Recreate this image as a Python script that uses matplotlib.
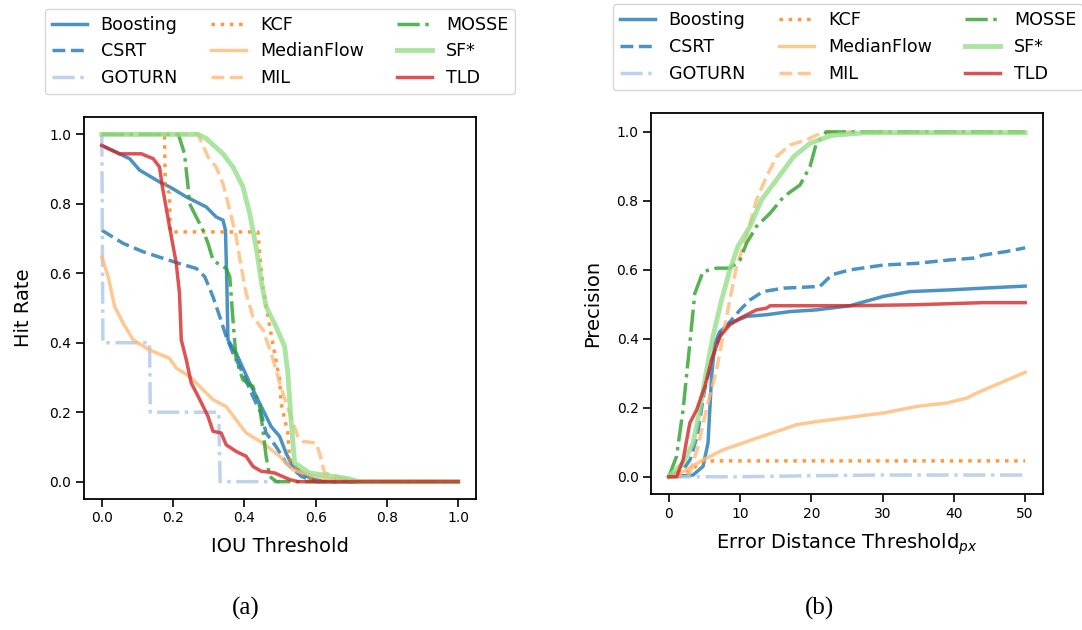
import matplotlib
matplotlib.use("Agg")
from matplotlib import pyplot as plt

names = ["Boosting", "CSRT", "GOTURN", "KCF", "MedianFlow", "MIL", "MOSSE", "SF*", "TLD"]

# (a) hit rate vs IOU threshold
boost_iou_x = [0, .078, .106, .162, .19, .237, .293, .321, .34, .347, .351, .354, .377, .415, .452, .475, .499, .517, .536, .583, .62, 1.0]
boost_iou_y = [.968, .930, .897, .863, .849, .820, .791, .762, .753, .724, .561, .408, .370, .284, .207, .159, .130, .082, .044, .011, 0, 0]
csrt_iou_x = [0, .06, .116, .172, .218, .265, .289, .312, .331, .349, .368, .396, .424, .447, .461, .489, .517, .56, .6, 1.0]
csrt_iou_y = [.724, .686, .662, .643, .628, .614, .590, .532, .475, .418, .370, .312, .245, .197, .140, .101, .054, .015, 0, 0]
goturn_iou_x = [0, .003, .134, .136, .328, .332, .5]
goturn_iou_y = [1.0, .4, .4, .2, .2, 0, 0]
kcf_iou_x = [0, .176, .178, .19, .192, .438, .443, .452, .471, .485, .499, .503, .522, .527, .56, .6, 1.0]
kcf_iou_y = [1, 1, .85, .83, .719, .719, .657, .561, .446, .370, .293, .226, .140, .063, .025, 0, 0]
mflow_iou_x = [0, .018, .036, .06, .088, .134, .19, .209, .246, .275, .312, .349, .377, .405, .452, .499, .536, .599, .665, .7, 1.0]
mflow_iou_y = [.647, .590, .504, .456, .408, .379, .355, .327, .303, .274, .236, .216, .178, .140, .111, .073, .034, .015, .004, 0, 0]
mil_iou_x = [0, .27, .298, .321, .34, .359, .377, .391, .405, .424, .452, .475, .489, .499, .527, .55, .564, .601, .611, .625, .68, .72, 1.0]
mil_iou_y = [1, 1, .935, .906, .858, .782, .705, .619, .542, .475, .437, .370, .322, .284, .197, .130, .116, .111, .082, .025, .01, 0, 0]
mosse_iou_x = [0, .215, .232, .242, .246, .265, .284, .298, .312, .331, .349, .359, .368, .377, .396, .424, .443, .452, .461, .471, .49, 1.0]
mosse_iou_y = [1, 1, .944, .849, .801, .762, .724, .686, .638, .624, .614, .590, .466, .351, .293, .274, .216, .149, .073, .015, 0, 0]
sf_iou_x = [0, .27, .293, .34, .368, .396, .415, .433, .447, .461, .489, .513, .522, .531, .541, .583, .695, .72, 1.0]
sf_iou_y = [1, 1, .988, .944, .906, .849, .772, .676, .580, .504, .446, .389, .312, .178, .054, .025, .008, 0, 0]
tld_iou_x = [0, .05, .111, .144, .162, .170, .19, .209, .218, .223, .237, .251, .275, .298, .312, .335, .349, .377, .405, .424, .447, .485, .527, .55, 1.0]
tld_iou_y = [.968, .944, .944, .930, .906, .849, .734, .628, .542, .408, .351, .284, .236, .188, .145, .140, .106, .087, .073, .044, .030, .025, .006, 0, 0]

# (b) precision vs error distance threshold
boost_err_x = [0, 3.4, 4.8, 5.5, 6.0, 6.46, 7.16, 8.57, 10.9, 13.7, 17.0, 20.7, 25.4, 30.1, 33.8, 39.5, 44.1, 50]
boost_err_y = [0, .005, .03, .098, .291, .387, .421, .445, .465, .47, .479, .484, .496, .523, .537, .542, .547, .553]
csrt_err_x = [0, 2, 3, 4, 5, 6, 7, 7.6, 10.0, 11.4, 13.2, 16.1, 21.2, 22.9, 25.4, 30.1, 34.8, 39.5, 42.7, 44.1, 47.3, 50]
csrt_err_y = [0, .02, .05, .12, .25, .34, .40, .426, .484, .513, .537, .547, .552, .586, .60, .614, .619, .629, .634, .643, .653, .664]
goturn_err_x = [0, 10, 20, 30, 50]
goturn_err_y = [0, 0, .003, .005, .005]
kcf_err_x = [0, 2, 4.8, 5.5, 50]
kcf_err_y = [0, .005, .044, .046, .046]
mflow_err_x = [0, 2.0, 4.8, 7.6, 10.4, 12.3, 15.1, 17.9, 20.7, 24.5, 30.1, 34.8, 39.0, 41.8, 43.2, 46.5, 50]
mflow_err_y = [0, .015, .049, .078, .098, .112, .131, .151, .160, .170, .185, .204, .214, .228, .243, .272, .303]
mil_err_x = [0, 1, 2, 2.9, 4, 5, 5.8, 6.7, 7.4, 8.1, 9.5, 10.9, 12.3, 13.7, 15.1, 17.0, 19.3, 21.7, 50]
mil_err_y = [0, .003, .006, .01, .08, .17, .24, .31, .387, .465, .61, .697, .803, .87, .928, .962, .977, 1.0, 1.0]
mosse_err_x = [0, 1.08, 2.0, 2.95, 3.65, 4.8, 6.7, 8.57, 10.0, 10.9, 12.3, 14.2, 16.1, 18.4, 19.8, 20.7, 22.1, 50]
mosse_err_y = [0, .059, .194, .387, .532, .595, .605, .605, .629, .677, .726, .764, .812, .846, .899, .967, 1.0, 1.0]
sf_err_x = [0, 2.0, 3.4, 4.35, 5.3, 6.2, 7.4, 8.57, 9.7, 11.4, 13.0, 15.1, 17.5, 19.8, 22.8, 27.8, 50]
sf_err_y = [0, .04, .098, .194, .31, .407, .513, .60, .668, .726, .803, .861, .928, .967, .99, .998, .998]
tld_err_x = [0, 1.1, 2.0, 2.95, 3.9, 5.06, 6.0, 7.16, 8.57, 10.0, 12.3, 13.7, 14.2, 25.4, 34.8, 44.1, 50]
tld_err_y = [0, 0, .049, .156, .194, .262, .339, .407, .441, .46, .484, .489, .496, .496, .499, .505, .505]

iou_x = [boost_iou_x, csrt_iou_x, goturn_iou_x, kcf_iou_x, mflow_iou_x, mil_iou_x, mosse_iou_x, sf_iou_x, tld_iou_x]
iou_y = [boost_iou_y, csrt_iou_y, goturn_iou_y, kcf_iou_y, mflow_iou_y, mil_iou_y, mosse_iou_y, sf_iou_y, tld_iou_y]
err_x = [boost_err_x, csrt_err_x, goturn_err_x, kcf_err_x, mflow_err_x, mil_err_x, mosse_err_x, sf_err_x, tld_err_x]
err_y = [boost_err_y, csrt_err_y, goturn_err_y, kcf_err_y, mflow_err_y, mil_err_y, mosse_err_y, sf_err_y, tld_err_y]

tab20 = plt.get_cmap("tab20").colors
styles = [
    (tab20[0], "-", 2.5),
    (tab20[0], "--", 2.5),
    (tab20[1], "-.", 2.5),
    (tab20[2], ":", 2.5),
    (tab20[3], "-", 2.5),
    (tab20[3], "--", 2.5),
    (tab20[4], "-.", 2.5),
    (tab20[5], "-", 3.5),
    (tab20[6], "-", 2.5),
]

W, H = 1082, 630
fig = plt.figure(figsize=(W / 100, H / 100), dpi=100)


def px_axes(x0, y0, x1, y1):
    return fig.add_axes([x0 / W, 1 - y1 / H, (x1 - x0) / W, (y1 - y0) / H])


def draw(ax, xs, ys):
    for name, x, y, (c, ls, lw) in zip(names, xs, ys, styles):
        ax.plot(x, y, color=c, ls=ls, lw=lw, alpha=0.8, label=name)
    ax.tick_params(labelsize=10, length=5.5, width=1.2)
    for s in ax.spines.values():
        s.set_linewidth(1.3)


ax1 = px_axes(84, 117, 476, 499)
draw(ax1, iou_x, iou_y)
ax1.set_xlim(-0.05, 1.05)
ax1.set_ylim(-0.05, 1.05)
ax1.set_xlabel("IOU Threshold", fontsize=14, labelpad=8)
ax1.set_ylabel("Hit Rate", fontsize=14, labelpad=12)
ax1.legend(ncol=3, fontsize=12.6, columnspacing=1.9, loc="center",
           bbox_to_anchor=(280 / W, 1 - 51.5 / H), bbox_transform=fig.transFigure)

ax2 = px_axes(651, 113, 1043, 494)
draw(ax2, err_x, err_y)
ax2.set_xlim(-2.5, 52.5)
ax2.set_ylim(-0.05, 1.055)
ax2.set_xlabel("Error Distance Threshold$_{px}$", fontsize=14, labelpad=8)
ax2.set_ylabel("Precision", fontsize=14, labelpad=10)
ax2.legend(ncol=3, fontsize=12.6, columnspacing=1.9, loc="center",
           bbox_to_anchor=(848 / W, 1 - 47 / H), bbox_transform=fig.transFigure)

fig.text(246 / W, 1 - 608 / H, "(a)", family="Liberation Serif", fontsize=18, ha="center", va="center")
fig.text(820 / W, 1 - 608 / H, "(b)", family="Liberation Serif", fontsize=18, ha="center", va="center")

fig.savefig("out.png", dpi=100)
